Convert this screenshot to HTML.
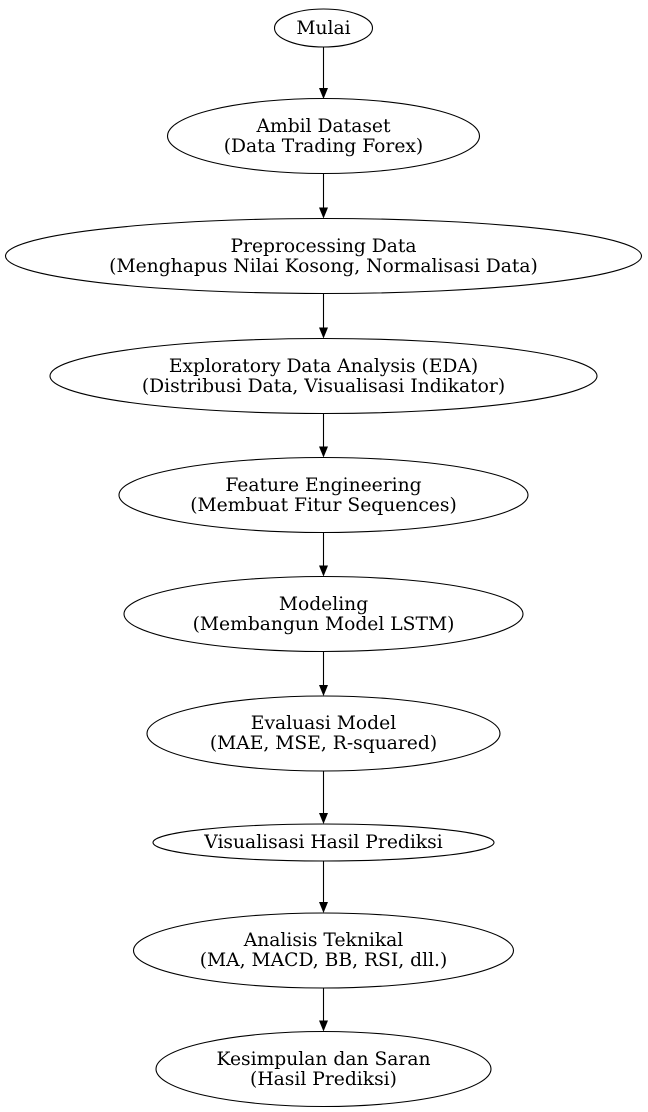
<!DOCTYPE html>
<html><head><meta charset="utf-8"><style>html,body{margin:0;padding:0;background:#fff}svg{display:block}</style></head>
<body>
<svg width="648" height="1112" viewBox="0 0 648 1112" xmlns="http://www.w3.org/2000/svg" font-family="'DejaVu Serif','Liberation Serif',serif" font-size="18.7" text-anchor="middle" fill="#000">
<g fill="none" stroke="#000" stroke-width="1.1">
<ellipse cx="323.5" cy="28" rx="49" ry="19"/>
<ellipse cx="323.5" cy="136" rx="156" ry="37.5"/>
<ellipse cx="323.5" cy="256" rx="318" ry="37.5"/>
<ellipse cx="323.5" cy="376" rx="273.5" ry="37.5"/>
<ellipse cx="323.5" cy="495" rx="204.5" ry="37.5"/>
<ellipse cx="323.5" cy="614" rx="199.5" ry="37.5"/>
<ellipse cx="323.5" cy="733.5" rx="176.5" ry="37.5"/>
<ellipse cx="323.5" cy="842.5" rx="170.5" ry="18.5"/>
<ellipse cx="323.5" cy="950.5" rx="190" ry="37.5"/>
<ellipse cx="323.5" cy="1069" rx="167.5" ry="37.5"/>
<path d="M323.5 47V91M323.5 173.5V211M323.5 293.5V331M323.5 413.5V451M323.5 532.5V570M323.5 651.5V689M323.5 771V817M323.5 861V906M323.5 988V1025"/>
</g>
<g fill="#000">
<polygon points="319,88 328,88 323.5,99"/>
<polygon points="319,207.5 328,207.5 323.5,218.5"/>
<polygon points="319,327.5 328,327.5 323.5,338.5"/>
<polygon points="319,446.5 328,446.5 323.5,457.5"/>
<polygon points="319,565.5 328,565.5 323.5,576.5"/>
<polygon points="319,685 328,685 323.5,696"/>
<polygon points="319,813 328,813 323.5,824"/>
<polygon points="319,902 328,902 323.5,913"/>
<polygon points="319,1020.5 328,1020.5 323.5,1031.5"/>
</g>
<text x="323.5" y="34">Mulai</text>
<text x="323.5" y="132">Ambil Dataset</text><text x="323.5" y="152">(Data Trading Forex)</text>
<text x="323.5" y="252">Preprocessing Data</text><text x="323.5" y="272">(Menghapus Nilai Kosong, Normalisasi Data)</text>
<text x="323.5" y="372">Exploratory Data Analysis (EDA)</text><text x="323.5" y="392">(Distribusi Data, Visualisasi Indikator)</text>
<text x="323.5" y="491">Feature Engineering</text><text x="323.5" y="511">(Membuat Fitur Sequences)</text>
<text x="323.5" y="610">Modeling</text><text x="323.5" y="630">(Membangun Model LSTM)</text>
<text x="323.5" y="729">Evaluasi Model</text><text x="323.5" y="749">(MAE, MSE, R-squared)</text>
<text x="323.5" y="848">Visualisasi Hasil Prediksi</text>
<text x="323.5" y="946">Analisis Teknikal</text><text x="323.5" y="966">(MA, MACD, BB, RSI, dll.)</text>
<text x="323.5" y="1065">Kesimpulan dan Saran</text><text x="323.5" y="1085">(Hasil Prediksi)</text>
</svg>
</body></html>
